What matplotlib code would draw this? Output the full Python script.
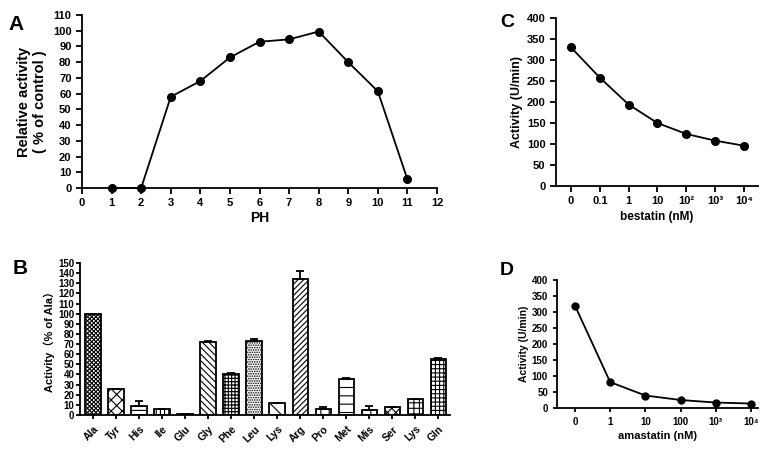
import matplotlib.pyplot as plt

# Data
ph = [1, 2, 3, 4, 5, 6, 7, 8, 9, 10, 11]
ph_activity = [0, 0, 58, 68, 83, 93, 94.5, 99.5, 80, 61.5, 5.5]

amino = ['Ala', 'Tyr', 'His', 'Ile', 'Glu', 'Gly', 'Phe', 'Leu', 'Lys', 'Arg',
         'Pro', 'Met', 'Mis', 'Ser', 'Lys', 'Gln']
amino_activity = [100, 26, 9, 6, 1, 72, 40, 73, 12, 134, 6, 36, 5, 8, 16, 55]
amino_err = [0, 0, 5, 0, 0, 1.5, 1, 2, 0, 8, 1.5, 1, 4, 0, 0, 1]
hatches = ['xxxxxxxx', 'xxx', '----', '||||', '', '\\\\\\\\\\', '+++++', '.......', '\\\\',
           '//////', '||', '--', '||', 'xxxx', '+++', '++++']

bestatin_labels = ['0', '0.1', '1', '10', '10²', '10³', '10⁴']
bestatin_activity = [330, 258, 194, 150, 124, 108, 96]

amastatin_labels = ['0', '1', '10', '100', '10³', '10⁴']
amastatin_activity = [320, 81, 39, 25, 17, 14]

plt.rcParams['font.family'] = ['Liberation Sans', 'DejaVu Sans', 'Noto Sans CJK SC']
plt.rcParams['font.weight'] = 'bold'
plt.rcParams['axes.labelweight'] = 'bold'
plt.rcParams['hatch.linewidth'] = 0.8

W, H = 776, 449
fig = plt.figure(figsize=(W / 100, H / 100), dpi=100)


def make_axes(left, right, top, bottom):
    return fig.add_axes([left / W, 1 - bottom / H, (right - left) / W, (bottom - top) / H])


def style(ax, lw=1.3):
    for s in ['top', 'right']:
        ax.spines[s].set_visible(False)
    for s in ['left', 'bottom']:
        ax.spines[s].set_linewidth(lw)
    ax.tick_params(direction='out', width=lw, length=4, color='black')


# Panel A
axA = make_axes(82, 437, 15, 188)
axA.plot(ph, ph_activity, '-o', color='black', lw=1.3, markersize=5.5, clip_on=False)
axA.set_xlim(0, 12)
axA.set_ylim(0, 110)
axA.set_xticks(range(0, 13))
axA.set_yticks(range(0, 111, 10))
style(axA)
axA.tick_params(labelsize=8)
axA.set_xlabel('PH', fontsize=10, labelpad=2)
axA.set_ylabel('Relative activity\n( % of control )', fontsize=10.5, labelpad=4)
fig.text(8 / W, 1 - 30 / H, 'A', fontsize=15, fontweight='bold')

# Panel B
axB = make_axes(80, 450, 263, 415)
xb = list(range(len(amino)))
axB.bar(xb, amino_activity, width=0.68, color='white', edgecolor='black',
        linewidth=1.3, hatch=hatches, zorder=2)
axB.bar([4], [amino_activity[4]], width=0.68, color='black', zorder=3)
axB.errorbar(xb, amino_activity, yerr=[[0] * len(amino_err), amino_err], fmt='none',
             ecolor='black', elinewidth=1.3, capsize=3, capthick=1.3, zorder=4)
axB.set_xlim(-0.57, 15.5)
axB.set_ylim(0, 150)
axB.set_yticks(range(0, 151, 10))
axB.set_xticks(xb)
axB.set_xticklabels(amino, rotation=45, ha='right', rotation_mode='anchor')
style(axB)
axB.tick_params(axis='y', labelsize=7, length=3, pad=1)
axB.tick_params(axis='x', labelsize=7.5, length=3)
axB.set_ylabel('Activity（% of Ala）', fontsize=8,
               family=['Liberation Sans', 'Noto Sans CJK SC'], labelpad=2)
fig.text(13 / W, 1 - 274 / H, 'B', fontsize=15, fontweight='bold')

# Panel C
axC = make_axes(556, 758, 18, 186)
xc = list(range(len(bestatin_labels)))
axC.plot(xc, bestatin_activity, '-o', color='black', lw=1.3, markersize=5.5)
axC.set_xlim(-0.52, 6.49)
axC.set_ylim(0, 400)
axC.set_yticks(range(0, 401, 50))
axC.set_xticks(xc)
axC.set_xticklabels(bestatin_labels)
style(axC)
axC.tick_params(labelsize=8)
axC.set_xlabel('bestatin (nM)', fontsize=8.5, labelpad=3)
axC.set_ylabel('Activity (U/min)', fontsize=9, labelpad=3)
fig.text(500 / W, 1 - 27 / H, 'C', fontsize=14, fontweight='bold')

# Panel D
axD = make_axes(557, 758, 280, 408)
xd = list(range(len(amastatin_labels)))
axD.plot(xd, amastatin_activity, '-o', color='black', lw=1.3, markersize=5)
axD.set_xlim(-0.51, 5.2)
axD.set_ylim(0, 400)
axD.set_yticks(range(0, 401, 50))
axD.set_xticks(xd)
axD.set_xticklabels(amastatin_labels)
style(axD)
axD.tick_params(labelsize=7, length=3)
axD.set_xlabel('amastatin (nM)', fontsize=8, labelpad=3)
axD.set_ylabel('Activity (U/min)', fontsize=7.5, labelpad=2)
fig.text(500 / W, 1 - 275 / H, 'D', fontsize=14, fontweight='bold')

fig.savefig('out.png', dpi=100)
